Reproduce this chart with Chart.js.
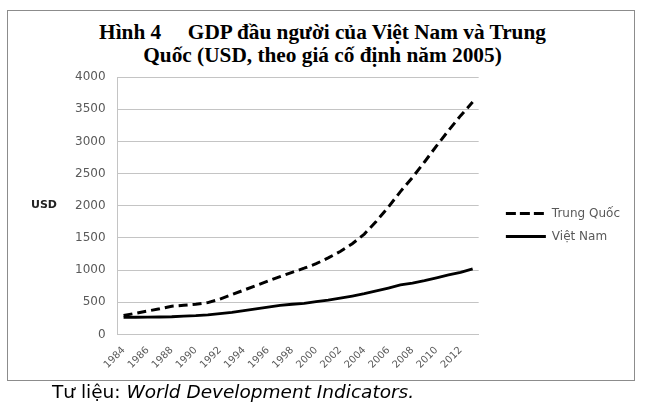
<!DOCTYPE html>
<html>
<head>
<meta charset="utf-8">
<script src="https://cdn.jsdelivr.net/npm/chart.js@4"></script>
<style>
  body { margin: 0; background: #fff; }
  #frame {
    position: absolute; left: 7px; top: 10px;
    width: 626px; height: 369px;
    border: 1px solid #8c8c8c;
  }
  #wrap { position: absolute; left: 0; top: 0; width: 645px; height: 410px; }
  #title {
    position: absolute; left: 0; top: 21px; width: 645px;
    text-align: center; white-space: pre;
    font: bold 21.3px/23px "Liberation Serif"; color: #000;
  }
  #usd {
    position: absolute; left: 31px; top: 198px;
    font: bold 11px "DejaVu Sans"; color: #222;
  }
  #source {
    position: absolute; left: 52px; top: 381px;
    font: 18.5px "DejaVu Sans"; color: #000;
  }
</style>
</head>
<body>
<div id="frame"></div>
<div id="title">Hình 4     GDP đầu người của Việt Nam và Trung
Quốc (USD, theo giá cố định năm 2005)</div>
<div id="wrap"><canvas id="myChart"></canvas></div>
<div id="usd">USD</div>
<div id="source">Tư liệu: <i>World Development Indicators.</i></div>
<script>
// Nam (truc x)
const years = ['1984', '1985', '1986', '1987', '1988', '1989', '1990', '1991', '1992', '1993',
               '1994', '1995', '1996', '1997', '1998', '1999', '2000', '2001', '2002', '2003',
               '2004', '2005', '2006', '2007', '2008', '2009', '2010', '2011', '2012', '2013'];

// GDP dau nguoi, USD gia co dinh 2005 (doc tu hinh)
const trungQuoc = [295, 330, 365, 400, 440, 455, 470, 495, 550, 620,
                   690, 760, 830, 900, 965, 1030, 1100, 1190, 1290, 1410,
                   1560, 1760, 1980, 2220, 2440, 2680, 2930, 3170, 3400, 3610];
const vietNam = [265, 268, 270, 272, 276, 285, 292, 305, 325, 345,
                 370, 398, 425, 452, 470, 485, 510, 535, 565, 598,
                 635, 677, 722, 770, 800, 836, 880, 925, 965, 1020];

// Vach chia truc y
const yTicks = [0, 500, 1000, 1500, 2000, 2500, 3000, 3500, 4000];

const gray = '#595959';
const ctx = document.getElementById('myChart').getContext('2d');
const myChart = new Chart(ctx, {
    type: 'line',
    data: {
        labels: years,
        datasets: [{
            label: 'Trung Quốc',
            data: trungQuoc,
            borderColor: '#000',
            backgroundColor: 'transparent',
            borderWidth: 3,
            borderDash: [9, 5],
            pointRadius: 0,
            tension: 0
        }, {
            label: 'Việt Nam',
            data: vietNam,
            borderColor: '#000',
            backgroundColor: 'transparent',
            borderWidth: 2.8,
            pointRadius: 0,
            tension: 0
        }]
    },
    options: {
        responsive: true,
        maintainAspectRatio: false,
        animation: false,
        layout: {
            padding: { left: 63, right: 15, top: 77, bottom: 37 }
        },
        plugins: {
            legend: {
                position: 'right',
                maxWidth: 200,
                labels: {
                    boxWidth: 40,
                    boxHeight: 0,
                    padding: 11,
                    color: gray,
                    font: { family: 'DejaVu Sans', size: 12 }
                }
            },
            tooltip: { enabled: false }
        },
        scales: {
            y: {
                min: 0,
                max: 4000,
                afterBuildTicks: (axis) => {
                    axis.ticks = yTicks.map(v => ({ value: v }));
                },
                grid: {
                    color: '#c4c4c4',
                    drawTicks: false
                },
                border: { display: true, color: '#c4c4c4' },
                ticks: {
                    padding: 12,
                    color: gray,
                    font: { family: 'DejaVu Sans', size: 12 },
                    callback: (value) => String(value)
                }
            },
            // truc an ben phai, chi de chua khoang trong truoc chu giai
            y2: {
                position: 'right',
                display: true,
                grid: { display: false, drawTicks: false },
                border: { display: false },
                ticks: { display: false },
                title: {
                    display: true,
                    text: ' ',
                    font: { size: 1 },
                    padding: { top: 0, bottom: 15 }
                }
            },
            x: {
                offset: true,
                grid: { display: false },
                border: { display: true, color: '#c4c4c4' },
                ticks: {
                    autoSkip: false,
                    maxRotation: 45,
                    minRotation: 45,
                    padding: 2,
                    color: gray,
                    font: { family: 'DejaVu Sans', size: 10 },
                    callback: function(value, index) {
                        return index % 2 === 0 ? years[index] : '';
                    }
                }
            }
        }
    }
});
</script>
</body>
</html>
